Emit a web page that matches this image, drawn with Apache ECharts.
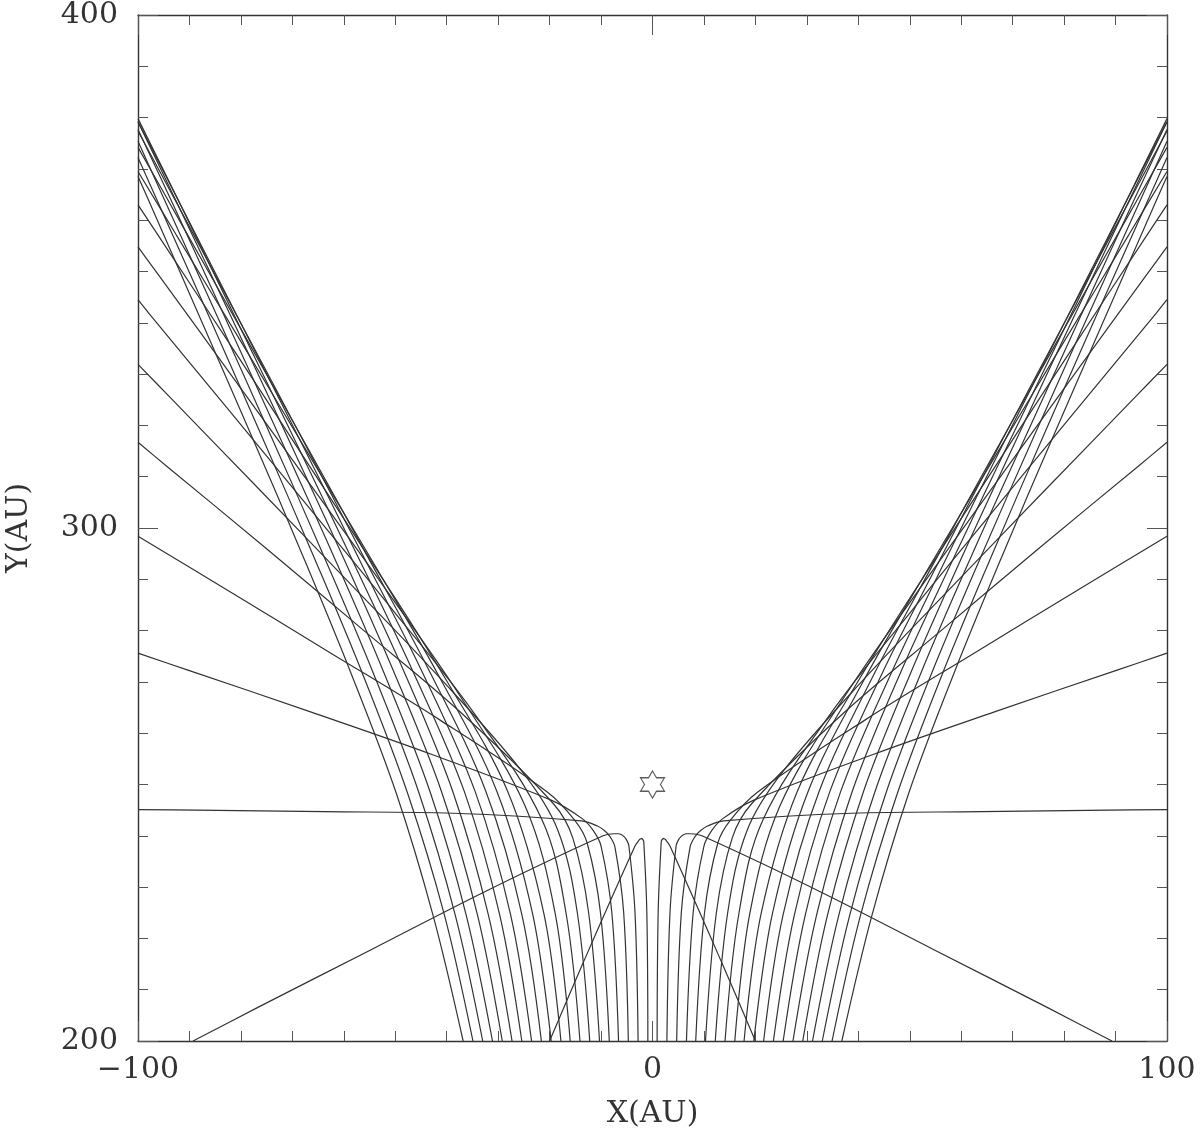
<!DOCTYPE html>
<html><head><meta charset="utf-8">
<script src="https://cdn.jsdelivr.net/npm/echarts/dist/echarts.min.js"></script>
<style>html,body{margin:0;padding:0;background:#fff}#c{width:1200px;height:1143px}</style>
</head><body><div id="c"></div><script>
// ---- data: axis ranges / ticks ----
const xRange = [-100, 100];
const yRange = [200, 400];
const xLabelStep = 100, yLabelStep = 100, minorPerStep = 10;
const xTitle = 'X(AU)', yTitle = 'Y(AU)';
// ---- data: star position ----
const starPos = [0, 250];
// ---- data: trajectories left of the axis, [x, y] in AU (bottom edge -> exit) ----
const trajLeft = [
 [[-0.9,200.0],[-1.1,225.0],[-1.7,238.9],[-1.9,239.3],[-2.0,239.4],[-2.0,239.5],[-2.1,239.5],[-2.2,239.5],[-2.3,239.4],[-2.5,239.3],[-3.4,238.0],[-13.5,215.2],[-20.0,200.0]],
 [[-2.8,200.0],[-3.4,225.0],[-4.6,238.1],[-5.1,239.3],[-5.6,239.9],[-6.0,240.2],[-6.6,240.4],[-7.4,240.4],[-9.6,240.0],[-32.2,229.3],[-54.5,217.9],[-76.8,206.5],[-89.3,200.0]],
 [[-4.7,200.0],[-5.6,225.0],[-7.3,237.8],[-8.3,239.9],[-9.3,241.0],[-10.7,241.9],[-13.8,242.9],[-38.8,244.4],[-63.8,244.7],[-88.8,245.0],[-100.0,245.1]],
 [[-6.6,200.0],[-7.9,225.0],[-10.0,238.0],[-11.5,241.0],[-13.6,243.3],[-19.6,246.9],[-43.0,255.9],[-66.6,264.2],[-90.3,272.3],[-100.0,275.6]],
 [[-8.4,200.0],[-10.1,224.9],[-12.7,238.6],[-15.1,243.0],[-20.4,248.5],[-41.2,262.5],[-62.5,275.6],[-83.8,288.6],[-100.0,298.4]],
 [[-10.3,200.0],[-12.4,224.9],[-15.5,239.6],[-19.3,246.3],[-37.1,263.9],[-56.2,280.1],[-75.3,296.2],[-94.6,312.2],[-100.0,316.7]],
 [[-12.2,200.0],[-14.6,224.9],[-18.4,241.1],[-25.4,252.6],[-41.9,271.4],[-59.1,289.5],[-76.5,307.6],[-93.9,325.6],[-100.0,331.9]],
 [[-14.1,200.0],[-16.8,224.9],[-21.5,243.2],[-34.9,264.2],[-50.4,283.9],[-66.2,303.3],[-82.1,322.7],[-98.0,342.0],[-100.0,344.5]],
 [[-16.0,200.0],[-18.9,224.8],[-24.8,245.9],[-37.5,267.4],[-51.8,288.0],[-66.4,308.3],[-81.0,328.6],[-95.7,348.9],[-100.0,354.8]],
 [[-17.8,200.0],[-21.1,224.8],[-28.2,248.8],[-40.3,270.7],[-53.6,291.9],[-67.2,312.9],[-80.8,333.8],[-94.6,354.8],[-100.0,363.0]],
 [[-19.7,200.0],[-23.3,224.8],[-30.3,248.8],[-41.5,271.1],[-54.0,292.8],[-66.8,314.3],[-79.6,335.7],[-92.6,357.2],[-100.0,369.5]],
 [[-21.6,200.0],[-25.4,224.7],[-32.4,248.7],[-43.0,271.4],[-54.8,293.4],[-66.9,315.4],[-79.1,337.2],[-91.4,359.0],[-100.0,374.2]],
 [[-23.5,200.0],[-27.6,224.7],[-34.5,248.7],[-44.6,271.6],[-55.9,293.9],[-67.4,316.1],[-79.1,338.2],[-90.9,360.4],[-100.0,377.4]],
 [[-25.4,200.0],[-29.7,224.6],[-36.6,248.7],[-46.4,271.7],[-57.2,294.3],[-68.3,316.7],[-79.6,339.1],[-90.9,361.4],[-100.0,379.2]],
 [[-27.3,200.0],[-31.9,224.6],[-38.8,248.6],[-48.2,271.8],[-58.7,294.5],[-69.5,317.1],[-80.4,339.6],[-91.3,362.1],[-100.0,379.8]],
 [[-29.2,200.0],[-34.0,224.5],[-41.0,248.6],[-50.2,271.8],[-60.3,294.7],[-70.8,317.4],[-81.4,340.1],[-92.1,362.7],[-100.0,379.2]],
 [[-31.1,200.0],[-36.2,224.5],[-43.2,248.5],[-52.2,271.8],[-62.1,294.8],[-72.4,317.6],[-82.8,340.4],[-93.2,363.1],[-100.0,377.7]],
 [[-33.0,200.0],[-38.3,224.4],[-45.4,248.4],[-54.3,271.8],[-64.0,294.8],[-74.1,317.8],[-84.3,340.6],[-94.6,363.4],[-100.0,375.4]],
 [[-34.9,200.0],[-40.4,224.4],[-47.6,248.3],[-56.4,271.7],[-66.0,294.8],[-75.9,317.8],[-86.0,340.8],[-96.2,363.7],[-100.0,372.2]],
 [[-36.8,200.0],[-42.6,224.3],[-49.8,248.3],[-58.6,271.7],[-68.1,294.9],[-77.9,317.9],[-87.9,340.9],[-97.9,363.8],[-100.0,368.5]]
];
// ---- data: trajectories right of the axis ----
const trajRight = [
 [[0.9,200.0],[1.1,225.0],[1.7,238.9],[1.9,239.3],[2.0,239.4],[2.0,239.5],[2.1,239.5],[2.2,239.5],[2.3,239.4],[2.5,239.3],[3.4,238.0],[13.5,215.2],[20.0,200.0]],
 [[2.8,200.0],[3.4,225.0],[4.6,238.1],[5.1,239.3],[5.6,239.9],[6.0,240.2],[6.6,240.4],[7.4,240.4],[9.6,240.0],[32.2,229.3],[54.5,217.9],[76.8,206.5],[89.3,200.0]],
 [[4.7,200.0],[5.6,225.0],[7.3,237.8],[8.3,239.9],[9.3,241.0],[10.7,241.9],[13.8,242.9],[38.8,244.4],[63.8,244.7],[88.8,245.0],[100.0,245.1]],
 [[6.6,200.0],[7.9,225.0],[10.0,238.0],[11.5,241.0],[13.6,243.3],[19.6,246.9],[43.0,255.9],[66.6,264.2],[90.3,272.3],[100.0,275.6]],
 [[8.4,200.0],[10.1,224.9],[12.7,238.6],[15.1,243.0],[20.4,248.5],[41.2,262.5],[62.5,275.6],[83.8,288.6],[100.0,298.4]],
 [[10.3,200.0],[12.4,224.9],[15.5,239.6],[19.3,246.3],[37.1,263.9],[56.2,280.1],[75.3,296.2],[94.6,312.2],[100.0,316.7]],
 [[12.2,200.0],[14.6,224.9],[18.4,241.1],[25.4,252.6],[41.9,271.4],[59.1,289.5],[76.5,307.6],[93.9,325.6],[100.0,331.9]],
 [[14.1,200.0],[16.8,224.9],[21.5,243.2],[34.9,264.2],[50.4,283.9],[66.2,303.3],[82.1,322.7],[98.0,342.0],[100.0,344.5]],
 [[16.0,200.0],[18.9,224.8],[24.8,245.9],[37.5,267.4],[51.8,288.0],[66.4,308.3],[81.0,328.6],[95.7,348.9],[100.0,354.8]],
 [[17.8,200.0],[21.1,224.8],[28.2,248.8],[40.3,270.7],[53.6,291.9],[67.2,312.9],[80.8,333.8],[94.6,354.8],[100.0,363.0]],
 [[19.7,200.0],[23.3,224.8],[30.3,248.8],[41.5,271.1],[54.0,292.8],[66.8,314.3],[79.6,335.7],[92.6,357.2],[100.0,369.5]],
 [[21.6,200.0],[25.4,224.7],[32.4,248.7],[43.0,271.4],[54.8,293.4],[66.9,315.4],[79.1,337.2],[91.4,359.0],[100.0,374.2]],
 [[23.5,200.0],[27.6,224.7],[34.5,248.7],[44.6,271.6],[55.9,293.9],[67.4,316.1],[79.1,338.2],[90.9,360.4],[100.0,377.4]],
 [[25.4,200.0],[29.7,224.6],[36.6,248.7],[46.4,271.7],[57.2,294.3],[68.3,316.7],[79.6,339.1],[90.9,361.4],[100.0,379.2]],
 [[27.3,200.0],[31.9,224.6],[38.8,248.6],[48.2,271.8],[58.7,294.5],[69.5,317.1],[80.4,339.6],[91.3,362.1],[100.0,379.8]],
 [[29.2,200.0],[34.0,224.5],[41.0,248.6],[50.2,271.8],[60.3,294.7],[70.8,317.4],[81.4,340.1],[92.1,362.7],[100.0,379.2]],
 [[31.1,200.0],[36.2,224.5],[43.2,248.5],[52.2,271.8],[62.1,294.8],[72.4,317.6],[82.8,340.4],[93.2,363.1],[100.0,377.7]],
 [[33.0,200.0],[38.3,224.4],[45.4,248.4],[54.3,271.8],[64.0,294.8],[74.1,317.8],[84.3,340.6],[94.6,363.4],[100.0,375.4]],
 [[34.9,200.0],[40.4,224.4],[47.6,248.3],[56.4,271.7],[66.0,294.8],[75.9,317.8],[86.0,340.8],[96.2,363.7],[100.0,372.2]],
 [[36.8,200.0],[42.6,224.3],[49.8,248.3],[58.6,271.7],[68.1,294.9],[77.9,317.9],[87.9,340.9],[97.9,363.8],[100.0,368.5]]
];

// ---- styles ----
const INK = '#333';
const font = 'DejaVu Serif';
const series = [];
trajLeft.concat(trajRight).forEach(d => series.push({
  type: 'line', data: d, showSymbol: false, silent: true, clip: true, smooth: 0.35,
  lineStyle: { width: 1.2, color: INK }, xAxisIndex: 0, yAxisIndex: 0
}));
// six-pointed star outline symbol
const starPath = 'path://M0,-1 L0.2887,-0.5 L0.866,-0.5 L0.5774,0 L0.866,0.5 L0.2887,0.5 L0,1 L-0.2887,0.5 L-0.866,0.5 L-0.5774,0 L-0.866,-0.5 L-0.2887,-0.5 Z';
series.push({ type: 'scatter', data: [starPos], symbol: starPath, symbolSize: [24, 27], z: 10, silent: true,
  itemStyle: { color: '#fff', borderColor: INK, borderWidth: 1.2 } });

const axBase = () => ({
  axisLine: { show: true, onZero: false, lineStyle: { color: INK, width: 1.4 } },
  splitLine: { show: false },
  axisTick: { show: true, inside: true, length: 20, lineStyle: { color: '#555', width: 1 } },
  minorTick: { show: true, splitNumber: minorPerStep, length: 10, lineStyle: { color: '#555', width: 1 } }
});
const fmt = v => v < 0 ? '\u2212' + Math.abs(v) : String(v);
const chart = echarts.init(document.getElementById('c'), null, { renderer: 'canvas' });
chart.setOption({
  animation: false, backgroundColor: '#fff',
  grid: { left: 138, right: 33, top: 15, bottom: 102, containLabel: false, outerBoundsMode: 'none' },
  xAxis: [
    Object.assign({ type: 'value', min: xRange[0], max: xRange[1], interval: xLabelStep, position: 'bottom',
      axisLabel: { fontFamily: font, fontSize: 30, color: INK, margin: 14, formatter: fmt },
      name: xTitle, nameLocation: 'middle', nameGap: 58,
      nameTextStyle: { fontFamily: font, fontSize: 30, color: INK } }, axBase()),
    Object.assign({ type: 'value', min: xRange[0], max: xRange[1], interval: xLabelStep, position: 'top',
      axisLabel: { show: false } }, axBase())
  ],
  yAxis: [
    Object.assign({ type: 'value', min: yRange[0], max: yRange[1], interval: yLabelStep, position: 'left',
      axisLabel: { fontFamily: font, fontSize: 30, color: INK, margin: 20, formatter: fmt },
      name: yTitle, nameLocation: 'middle', nameGap: 104, nameRotate: 90,
      nameTextStyle: { fontFamily: font, fontSize: 30, color: INK } }, axBase()),
    Object.assign({ type: 'value', min: yRange[0], max: yRange[1], interval: yLabelStep, position: 'right',
      axisLabel: { show: false } }, axBase())
  ],
  series
});
</script></body></html>
